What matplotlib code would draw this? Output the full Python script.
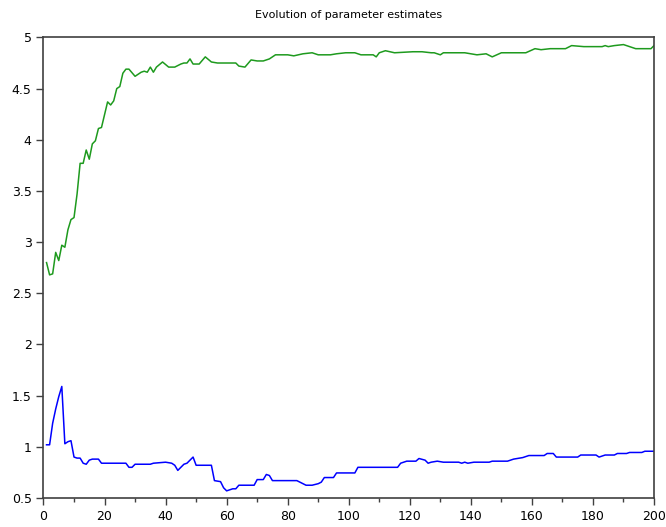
import matplotlib
matplotlib.use('Agg')
import matplotlib.pyplot as plt
from matplotlib.ticker import MultipleLocator

# Green estimate (upper curve)
green_x = [1, 2, 3, 4, 5, 6, 7, 8, 9, 10, 11, 12, 13, 14, 15, 16, 17, 18, 19, 21,
           22, 23, 24, 25, 26, 27, 28, 30, 32, 33, 34, 35, 36, 37, 39, 41, 43, 45, 46, 47,
           48, 49, 51, 53, 55, 57, 60, 63, 64, 66, 68, 70, 72, 74, 76, 80, 82, 85, 88, 90,
           94, 96, 99, 102, 104, 108, 109, 110, 112, 115, 121, 124, 127, 128, 130, 131, 138, 142, 145, 147,
           150, 158, 161, 163, 166, 171, 173, 177, 183, 184, 185, 187, 190, 192, 194, 199, 200]
green_y = [2.80, 2.68, 2.69, 2.90, 2.82, 2.97, 2.95, 3.12, 3.22, 3.24, 3.47, 3.77, 3.77, 3.90, 3.81, 3.96, 3.99, 4.11, 4.12, 4.37,
           4.34, 4.38, 4.50, 4.52, 4.65, 4.69, 4.69, 4.62, 4.66, 4.67, 4.66, 4.71, 4.66, 4.71, 4.76, 4.71, 4.71, 4.74, 4.75, 4.75,
           4.79, 4.74, 4.74, 4.81, 4.76, 4.75, 4.75, 4.75, 4.72, 4.71, 4.78, 4.77, 4.77, 4.79, 4.83, 4.83, 4.82, 4.84, 4.85, 4.83,
           4.83, 4.84, 4.85, 4.85, 4.83, 4.83, 4.81, 4.85, 4.87, 4.85, 4.86, 4.86, 4.85, 4.85, 4.83, 4.85, 4.85, 4.83, 4.84, 4.81,
           4.85, 4.85, 4.89, 4.88, 4.89, 4.89, 4.92, 4.91, 4.91, 4.92, 4.91, 4.92, 4.93, 4.91, 4.89, 4.89, 4.92]

# Blue estimate (lower curve)
blue_x = [1, 2, 3, 4, 5, 6, 7, 8, 9, 10, 11, 12, 13, 14, 15, 16, 18, 19, 27, 28,
          29, 30, 35, 36, 40, 42, 43, 44, 46, 47, 48, 49, 50, 55, 56, 58, 59, 60, 62, 63,
          64, 69, 70, 72, 73, 74, 75, 83, 85, 86, 88, 90, 91, 92, 95, 96, 102, 103, 116, 117,
          119, 122, 123, 125, 126, 127, 129, 131, 136, 137, 138, 139, 141, 146, 147, 152, 154, 157, 159, 164,
          165, 167, 168, 175, 176, 181, 182, 184, 187, 188, 191, 192, 196, 197, 200]
blue_y = [1.02, 1.02, 1.23, 1.37, 1.49, 1.59, 1.03, 1.05, 1.06, 0.90, 0.89, 0.89, 0.84, 0.83, 0.87, 0.88, 0.88, 0.84, 0.84, 0.80,
          0.80, 0.83, 0.83, 0.84, 0.85, 0.84, 0.82, 0.77, 0.83, 0.84, 0.87, 0.90, 0.82, 0.82, 0.67, 0.66, 0.60, 0.57, 0.59, 0.59,
          0.625, 0.625, 0.68, 0.68, 0.73, 0.72, 0.67, 0.67, 0.64, 0.625, 0.625, 0.64, 0.655, 0.70, 0.70, 0.745, 0.745, 0.80, 0.80, 0.84,
          0.86, 0.86, 0.886, 0.87, 0.84, 0.85, 0.86, 0.85, 0.85, 0.84, 0.85, 0.84, 0.85, 0.85, 0.86, 0.86, 0.88, 0.895, 0.915, 0.915,
          0.935, 0.935, 0.90, 0.90, 0.92, 0.92, 0.90, 0.92, 0.92, 0.935, 0.935, 0.945, 0.945, 0.957, 0.957]

fig = plt.figure(figsize=(6.66, 5.27), dpi=100)
ax = fig.add_axes([0.0653, 0.055, 0.9167, 0.874])

ax.plot(green_x, green_y, color='#1e9a1e', lw=1.1)
ax.plot(blue_x, blue_y, color='#0000ff', lw=1.1)

ax.set_xlim(0, 200)
ax.set_ylim(0.5, 5)
ax.xaxis.set_major_locator(MultipleLocator(20))
ax.xaxis.set_minor_locator(MultipleLocator(10))
ax.tick_params(which='both', direction='out', color='#404040', labelsize=9, top=False, right=False)
ax.tick_params(which='major', length=5, width=1)
ax.tick_params(which='minor', length=3, width=1)
ax.set_yticks([0.5, 1, 1.5, 2, 2.5, 3, 3.5, 4, 4.5, 5])
ax.set_yticklabels(['0.5', '1', '1.5', '2', '2.5', '3', '3.5', '4', '4.5', '5'])
for s in ax.spines.values():
    s.set_color('#404040')
    s.set_linewidth(1.2)

ax.set_title('Evolution of parameter estimates', fontsize=8, pad=14)

fig.savefig('out.png', dpi=100)
